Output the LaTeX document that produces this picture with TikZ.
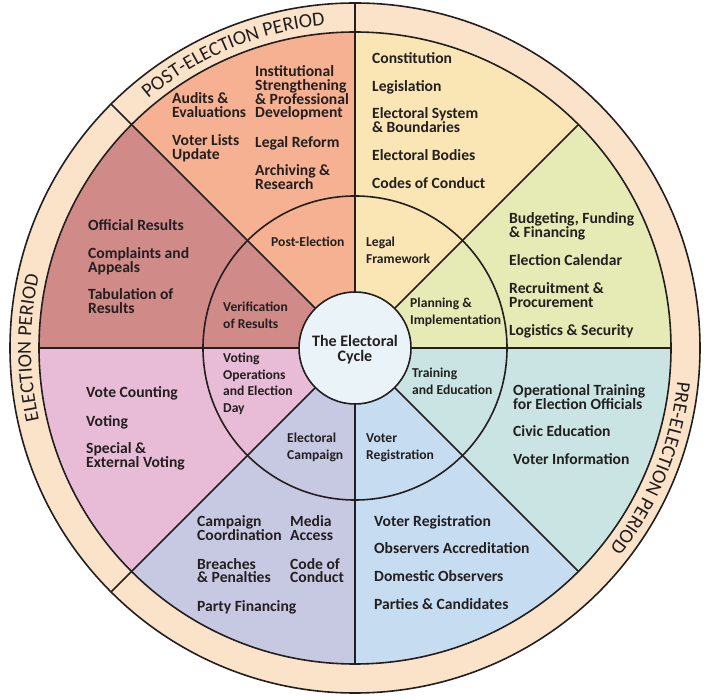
\documentclass[tikz,border=0pt]{standalone}
\usepackage{fontspec}
\setmainfont{Carlito}
\usetikzlibrary{decorations.text}
\definecolor{cPost}{HTML}{F5B191}
\definecolor{cVerif}{HTML}{D08A88}
\definecolor{cVoting}{HTML}{E8BCD7}
\definecolor{cCamp}{HTML}{C7C9E3}
\definecolor{cReg}{HTML}{C6DCF1}
\definecolor{cTrain}{HTML}{C9E4E3}
\definecolor{cPlan}{HTML}{E6EBB5}
\definecolor{cLegal}{HTML}{FAE6B5}
\definecolor{cRing}{HTML}{FBE3C9}
\definecolor{cCenter}{HTML}{EAF4F8}
\definecolor{ink}{HTML}{231F20}
\newcommand\itm[1]{\vtop{\baselineskip=13.6pt\lineskiplimit=-30pt\halign{##\hfil\cr#1\cr}}}
\newcommand\inn[1]{\vtop{\baselineskip=16.5pt\lineskiplimit=-30pt\halign{##\hfil\cr#1\cr}}}
\tikzset{
  wl/.style={draw=ink, line width=1.6pt},
  item/.style={anchor=base west, inner sep=0pt, text=ink, font=\bfseries\fontsize{15.6}{13.6}\selectfont},
  inner/.style={anchor=base west, inner sep=0pt, text=ink, font=\bfseries\fontsize{13.6}{16.5}\selectfont},
  period/.style={decorate, decoration={text along path, text align=center}},
}
\begin{document}
\begin{tikzpicture}[x=1pt,y=1pt]
\useasboundingbox (0,0) rectangle (710,-700);
\begin{scope}[shift={(355,-348)}]
  \fill[cRing, even odd rule] (0,0) circle[radius=345] (0,0) circle[radius=316];
  \fill[cLegal]  (0,0) -- (45:316)  arc[start angle=45,  end angle=90,  radius=316] -- cycle;
  \fill[cPost]   (0,0) -- (90:316)  arc[start angle=90,  end angle=135, radius=316] -- cycle;
  \fill[cVerif]  (0,0) -- (135:316) arc[start angle=135, end angle=180, radius=316] -- cycle;
  \fill[cVoting] (0,0) -- (180:316) arc[start angle=180, end angle=225, radius=316] -- cycle;
  \fill[cCamp]   (0,0) -- (225:316) arc[start angle=225, end angle=270, radius=316] -- cycle;
  \fill[cReg]    (0,0) -- (270:316) arc[start angle=270, end angle=315, radius=316] -- cycle;
  \fill[cTrain]  (0,0) -- (315:316) arc[start angle=315, end angle=360, radius=316] -- cycle;
  \fill[cPlan]   (0,0) -- (0:316)   arc[start angle=0,   end angle=45,  radius=316] -- cycle;
  \draw[wl] (0,0) circle[radius=345];
  \draw[wl] (0,0) circle[radius=316];
  \draw[wl] (0,0) circle[radius=152];
  \foreach \a in {0,45,...,315} \draw[wl] (\a:56) -- (\a:316);
  \foreach \a in {90,135,225} \draw[wl] (\a:316) -- (\a:345);
  \node[circle, wl, fill=cCenter, minimum size=112pt, inner sep=0pt] (hub) at (0,0) {};
  \node[align=center, text=ink, font=\bfseries\fontsize{16}{15}\selectfont] (title) at (0,-2) {The Electoral\\Cycle};
  \path[period, decoration={text={|\fontsize{20}{20}\selectfont\color{ink}|POST-ELECTION PERIOD}}]
     (152.5:324) arc[start angle=152.5, end angle=72.5, radius=324];
  \path[period, decoration={text={|\fontsize{20}{20}\selectfont\color{ink}|ELECTION PERIOD}}]
     (230:324) arc[start angle=230, end angle=130, radius=324];
  \path[period, decoration={text={|\fontsize{20}{20}\selectfont\color{ink}|PRE-ELECTION PERIOD}}]
     (28:324) arc[start angle=28, end angle=-72, radius=324];
\end{scope}
% inner ring labels
\node[inner] (lPost) at (271,-247) {Post-Election};
\node[inner] (lLegal) at (366,-247) {\inn{Legal\cr Framework}};
\node[inner] (lPlan) at (410,-308) {\inn{Planning \&\cr Implementation}};
\node[inner] (lTrain) at (412,-378) {\inn{Training\cr and Education}};
\node[inner] (lReg) at (366,-443) {\inn{Voter\cr Registration}};
\node[inner] (lCamp) at (287,-443) {\inn{Electoral\cr Campaign}};
\node[inner] (lVote) at (223,-363) {\inn{Voting\cr Operations\cr and Election\cr Day}};
\node[inner] (lVerif) at (223,-312) {\inn{Verification\cr of Results}};
% post-election
\node[item] (p1) at (172,-104) {\itm{Audits \&\cr Evaluations}};
\node[item] (p2) at (172,-146) {\itm{Voter Lists\cr Update}};
\node[item] (p3) at (255,-77) {\itm{Institutional\cr Strengthening\cr \& Professional\cr Development}};
\node[item] (p4) at (255,-148) {Legal Reform};
\node[item] (p5) at (255,-176) {\itm{Archiving \&\cr Research}};
% legal framework
\node[item] (f1) at (372,-64) {Constitution};
\node[item] (f2) at (372,-92) {Legislation};
\node[item] (f3) at (372,-119) {\itm{Electoral System\cr \& Boundaries}};
\node[item] (f4) at (372,-161) {Electoral Bodies};
\node[item] (f5) at (372,-189) {Codes of Conduct};
% planning
\node[item] (m1) at (509,-224) {\itm{Budgeting, Funding\cr \& Financing}};
\node[item] (m2) at (509,-266) {Election Calendar};
\node[item] (m3) at (509,-294) {\itm{Recruitment \&\cr Procurement}};
\node[item] (m4) at (509,-336) {Logistics \& Security};
% training
\node[item] (t1) at (513,-396) {\itm{Operational Training\cr for Election Officials}};
\node[item] (t2) at (513,-437) {Civic Education};
\node[item] (t3) at (513,-465) {Voter Information};
% registration
\node[item] (r1) at (374,-526) {Voter Registration};
\node[item] (r2) at (374,-553) {Observers Accreditation};
\node[item] (r3) at (374,-581) {Domestic Observers};
\node[item] (r4) at (374,-609) {Parties \& Candidates};
% campaign
\node[item] (c1) at (197,-527) {\itm{Campaign\cr Coordination}};
\node[item] (c2) at (290,-527) {\itm{Media\cr Access}};
\node[item] (c3) at (197,-569) {\itm{Breaches\cr \& Penalties}};
\node[item] (c4) at (290,-569) {\itm{Code of\cr Conduct}};
\node[item] (c5) at (197,-611) {Party Financing};
% voting
\node[item] (v1) at (86,-398) {Vote Counting};
\node[item] (v2) at (86,-427) {Voting};
\node[item] (v3) at (86,-454) {\itm{Special \&\cr External Voting}};
% verification
\node[item] (e1) at (88,-231) {Official Results};
\node[item] (e2) at (88,-259) {\itm{Complaints and\cr Appeals}};
\node[item] (e3) at (88,-300) {\itm{Tabulation of\cr Results}};
\end{tikzpicture}
\end{document}
